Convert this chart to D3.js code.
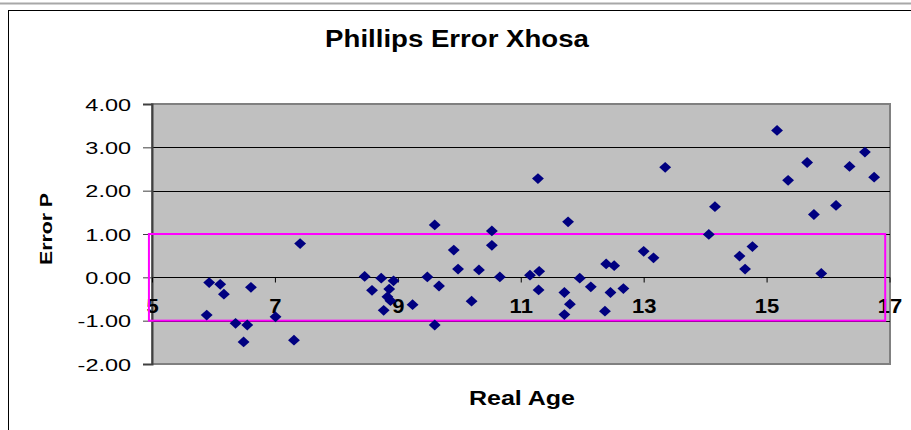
<!DOCTYPE html>
<html>
<head>
<meta charset="utf-8">
<script src="https://cdn.jsdelivr.net/npm/d3@7"></script>
<style>
  body { margin: 0; background: #fff; }
  text { font-family: Arial, "Liberation Sans", sans-serif; }
</style>
</head>
<body>
<div id="chart-area"></div>
<script>
// dados
const realAge = [
  5.89, 5.93, 6.11, 6.17, 6.36, 6.49, 6.55, 6.61, 7.01, 7.31, 7.41,
  8.46, 8.58, 8.73, 8.77, 8.83, 8.86, 8.88, 8.93, 9.24, 9.48, 9.60, 9.60, 9.67, 9.91, 9.98,
  10.20, 10.32, 10.53, 10.53, 10.66, 11.15, 11.28, 11.29, 11.30, 11.71, 11.71, 11.77, 11.80,
  11.96, 12.14, 12.37, 12.39, 12.46, 12.52, 12.67, 13.00, 13.16, 13.35,
  14.06, 14.16, 14.56, 14.65, 14.77, 15.17, 15.35, 15.66, 15.77, 15.89, 16.13, 16.35, 16.60, 16.75
]
const errorP = [
  -0.87, -0.12, -0.16, -0.39, -1.06, -1.49, -1.10, -0.23, -0.91, -1.45, 0.78,
  0.02, -0.30, -0.02, -0.76, -0.45, -0.27, -0.54, -0.08, -0.63, 0.01, 1.21, -1.10, -0.20, 0.63, 0.19,
  -0.55, 0.17, 1.07, 0.74, 0.01, 0.05, 2.28, -0.29, 0.14, -0.35, -0.86, 1.28, -0.62,
  -0.02, -0.22, -0.78, 0.31, -0.35, 0.27, -0.26, 0.60, 0.45, 2.54,
  0.99, 1.63, 0.49, 0.19, 0.71, 3.39, 2.24, 2.65, 1.45, 0.09, 1.66, 2.56, 2.89, 2.31
]
const xTicks = [5, 7, 9, 11, 13, 15, 17]
const yTicks = [-2, -1, 0, 1, 2, 3, 4]
// faixa de +/- 1 (retângulo magenta)
const bandX = [4.95, 16.93]
const bandY = [-1, 1]

const data = realAge.map((d, i) => ({ age: d, err: errorP[i] }))

const WIDTH = 911
const HEIGHT = 430
const PLOT = { LEFT: 152, RIGHT: 890, TOP: 104, BOTTOM: 364 }

// formato com hífen comum no lugar do sinal de menos unicode
const fmt = d3.formatLocale({ decimal: ".", thousands: ",", grouping: [3], currency: ["", ""], minus: "-" })

const svg = d3.select("#chart-area").append("svg")
  .attr("width", WIDTH)
  .attr("height", HEIGHT)

// escalas
const x = d3.scaleLinear().domain([5, 17]).range([PLOT.LEFT, 889.5])
const y = d3.scaleLinear().domain([-2, 4]).range([PLOT.BOTTOM, PLOT.TOP])

// o gráfico original está esticado na horizontal - o texto também
function stretch(sel, sx, dx, dy) {
  sel.attr("x", 0).attr("y", 0).attr("dy", null)
    .attr("transform", `translate(${dx}, ${dy}) scale(${sx}, 1)`)
}

// linha cinza do documento no topo + moldura do gráfico
svg.append("line")
  .attr("x1", 0).attr("x2", WIDTH)
  .attr("y1", 3.5).attr("y2", 3.5)
  .attr("stroke", "#a8a8a8")
  .attr("stroke-width", 2)
svg.append("rect")
  .attr("x", 8.5).attr("y", 10.5)
  .attr("width", WIDTH + 20).attr("height", HEIGHT + 20)
  .attr("fill", "#fff")
  .attr("stroke", "#000")

// título
svg.append("text")
  .attr("text-anchor", "middle")
  .attr("font-size", "24px")
  .attr("font-weight", "bold")
  .text("Phillips Error Xhosa")
  .call(stretch, 1.15, 457, 47)

// área do gráfico
svg.append("rect")
  .attr("x", PLOT.LEFT).attr("y", PLOT.TOP)
  .attr("width", PLOT.RIGHT - PLOT.LEFT)
  .attr("height", PLOT.BOTTOM - PLOT.TOP)
  .attr("fill", "#c0c0c0")
  .attr("stroke", "#808080")
  .attr("stroke-width", 2)

// linhas de grade
svg.append("g")
  .selectAll("line")
  .data(yTicks.filter(d => d > -2 && d < 4))
  .join("line")
  .attr("x1", PLOT.LEFT).attr("x2", PLOT.RIGHT)
  .attr("y1", d => Math.round(y(d)) + 0.5)
  .attr("y2", d => Math.round(y(d)) + 0.5)
  .attr("stroke", "#000")

// eixo y
const yAxis = svg.append("g")
  .attr("transform", `translate(${PLOT.LEFT}, 0)`)
  .call(d3.axisLeft(y).tickValues(yTicks).tickFormat(fmt.format(".2f")).tickSize(9))
yAxis.select(".domain").attr("stroke", "#404040").attr("stroke-width", 2)
yAxis.selectAll(".tick line").attr("stroke", "#404040")
yAxis.selectAll("text")
  .attr("font-size", "17px")
  .attr("font-family", "Arial, 'Liberation Sans', sans-serif")
  .attr("fill", "#000")
  .call(stretch, 1.38, -21, 6)

// eixo x (cruza em y = 0)
const xAxis = svg.append("g")
  .attr("transform", `translate(0, ${Math.round(y(0)) + 0.5})`)
  .call(d3.axisBottom(x).tickValues(xTicks).tickFormat(d3.format("d")).tickSize(5))
xAxis.select(".domain").remove()
xAxis.selectAll(".tick line").attr("stroke", "#000")
xAxis.selectAll("text")
  .attr("font-size", "20px")
  .attr("font-weight", "bold")
  .attr("font-family", "Arial, 'Liberation Sans', sans-serif")
  .attr("fill", "#000")
  .call(stretch, 1.1, 0, 35)

// retângulo magenta da faixa de erro
svg.append("rect")
  .attr("x", x(bandX[0]))
  .attr("y", y(bandY[1]))
  .attr("width", x(bandX[1]) - x(bandX[0]))
  .attr("height", y(bandY[0]) - y(bandY[1]))
  .attr("fill", "none")
  .attr("stroke", "#ff00ff")
  .attr("stroke-width", 2)

// pontos (losangos)
const diamond = d3.symbol().type(d3.symbolSquare).size(58)
svg.append("g")
  .selectAll("path")
  .data(data)
  .join("path")
  .attr("d", diamond)
  .attr("transform", d => `translate(${x(d.age)}, ${y(d.err)}) scale(1.1, 1) rotate(45)`)
  .attr("fill", "#000080")

// rótulos dos eixos
svg.append("text")
  .attr("text-anchor", "middle")
  .attr("font-size", "20px")
  .attr("font-weight", "bold")
  .text("Real Age")
  .call(stretch, 1.25, 522, 405)

svg.append("text")
  .attr("transform", `translate(52, ${(PLOT.TOP + PLOT.BOTTOM) / 2 - 5}) rotate(-90) scale(1.25, 1)`)
  .attr("text-anchor", "middle")
  .attr("font-size", "17px")
  .attr("font-weight", "bold")
  .text("Error P")
</script>
</body>
</html>
